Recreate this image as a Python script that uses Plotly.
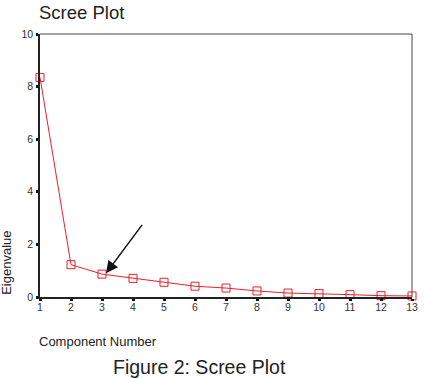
import plotly.graph_objects as go

components = list(range(1, 14))
eigenvalues = [8.35, 1.23, 0.87, 0.71, 0.56, 0.41, 0.34, 0.23, 0.15, 0.13, 0.09, 0.05, 0.04]
y_ticks = [0, 2, 4, 6, 8, 10]

fig = go.Figure()
fig.add_trace(go.Scatter(
    x=components, y=eigenvalues, mode="lines+markers",
    line=dict(color="#e8202a", width=1),
    marker=dict(symbol="square-open", size=8, color="#e8202a", line=dict(width=1)),
    cliponaxis=False, showlegend=False,
))

font = "Liberation Sans, Arial, sans-serif"
axis_common = dict(showgrid=False, zeroline=False, showline=True, linecolor="#222",
                   linewidth=1.6, ticks="outside", ticklen=2, tickwidth=2.5,
                   tickcolor="#111", tickfont=dict(size=10.5, color="#333"))
fig.update_layout(
    width=425, height=378,
    margin=dict(l=40, r=7, t=34, b=81),
    plot_bgcolor="white", paper_bgcolor="white",
    font=dict(family=font, color="#222"),
    xaxis=dict(range=[1, 13], tickvals=components, ticklabelstandoff=-2, **axis_common),
    yaxis=dict(range=[0, 10], tickvals=y_ticks, ticklabelstandoff=1, **axis_common),
    shapes=[
        dict(type="line", xref="paper", yref="paper", x0=0, x1=1, y0=1, y1=1,
             line=dict(color="#444", width=1)),
        dict(type="line", xref="paper", yref="paper", x0=1, x1=1, y0=0, y1=1,
             line=dict(color="#444", width=1)),
    ],
    annotations=[
        dict(text="Scree Plot", xref="paper", yref="paper", x=0, y=1, xanchor="left",
             yanchor="middle", yshift=22, xshift=-3, showarrow=False,
             font=dict(size=18.5, family=font)),
        dict(text="Component Number", xref="paper", yref="paper", x=0, y=0, xanchor="left",
             yanchor="middle", yshift=-44, xshift=-3, showarrow=False,
             font=dict(size=13, family=font)),
        dict(text="Eigenvalue", xref="paper", yref="paper", x=0, y=0.13, xanchor="center",
             yanchor="middle", xshift=-33, textangle=-90, showarrow=False,
             font=dict(size=13, family=font)),
        dict(text="Figure 2: Scree Plot", xref="paper", yref="paper", x=0.43, y=0,
             xanchor="center", yanchor="middle", yshift=-70, showarrow=False,
             font=dict(size=19.5, family=font)),
        dict(x=3.13, y=0.9, ax=4.33, ay=2.8, xref="x", yref="y", axref="x", ayref="y",
             text="", showarrow=True, arrowhead=2, arrowsize=1.6, arrowwidth=1.5,
             arrowcolor="#111"),
    ],
)

fig.write_html("out.html")
